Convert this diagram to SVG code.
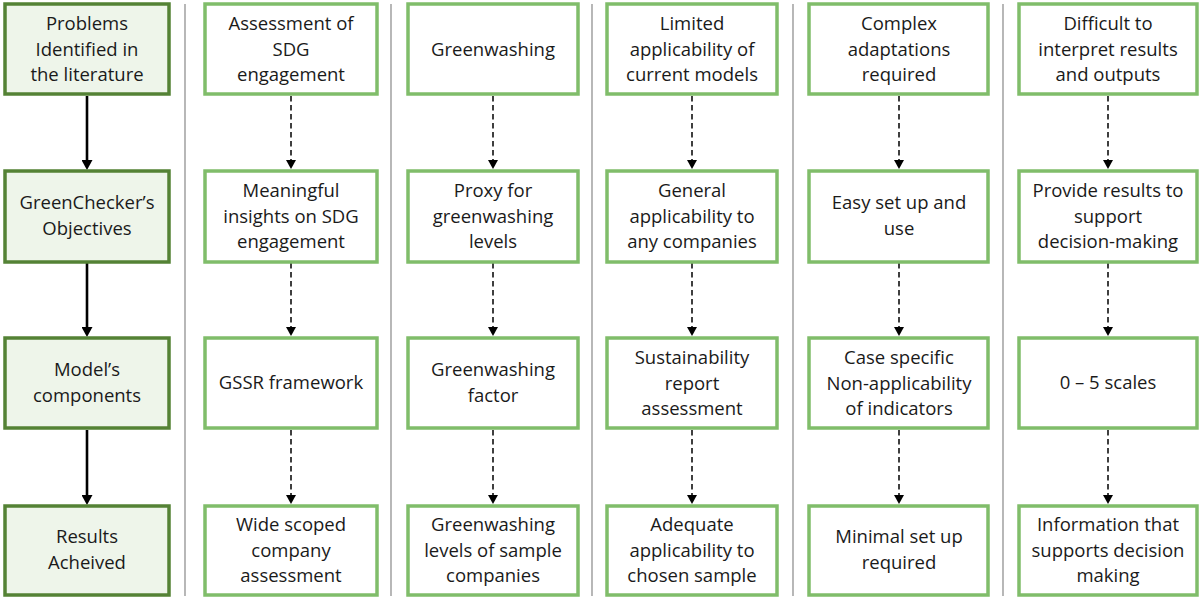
<svg xmlns="http://www.w3.org/2000/svg" width="1202" height="598" viewBox="0 0 1202 598">
<defs>
<style>
.lb{fill:#EEF5EA;stroke:#548235;stroke-width:3.5}
.nb{fill:#FFFFFF;stroke:#80BD6A;stroke-width:3.5}
text{font-family:"Open Sans","Liberation Sans",sans-serif;font-size:18.5px;fill:#1A1A1A;text-anchor:middle}
.sep{stroke:#A6A6A6;stroke-width:1.6}
.solid{stroke:#000;stroke-width:2.6;fill:none;marker-end:url(#ah)}
.dash{stroke:#000;stroke-width:1.5;stroke-dasharray:5.5,3.5;fill:none;marker-end:url(#ah2)}
</style>
<marker id="ah" markerUnits="userSpaceOnUse" markerWidth="11" markerHeight="11" refX="0" refY="5.5" orient="auto" viewBox="0 0 11 11">
<path d="M0,0 L10,5.5 L0,11 Z" fill="#000"/>
</marker>
<marker id="ah2" markerUnits="userSpaceOnUse" markerWidth="10" markerHeight="10" refX="0" refY="5" orient="auto" viewBox="0 0 10 10">
<path d="M0,0 L9,5 L0,10 Z" fill="#000"/>
</marker>
</defs>
<rect width="1202" height="598" fill="#FFFFFF"/>
<g id="separators">
<line class="sep" x1="185" y1="4" x2="185" y2="596"/>
<line class="sep" x1="391" y1="4" x2="391" y2="596"/>
<line class="sep" x1="592" y1="4" x2="592" y2="596"/>
<line class="sep" x1="793" y1="4" x2="793" y2="596"/>
<line class="sep" x1="1003" y1="4" x2="1003" y2="596"/>
</g>
<g id="connectors">
<line class="solid" x1="87" y1="96" x2="87" y2="160"/>
<line class="solid" x1="87" y1="263" x2="87" y2="327"/>
<line class="solid" x1="87" y1="430" x2="87" y2="495"/>
<line class="dash" x1="291" y1="96" x2="291" y2="160"/>
<line class="dash" x1="291" y1="263" x2="291" y2="327"/>
<line class="dash" x1="291" y1="430" x2="291" y2="495"/>
<line class="dash" x1="493" y1="96" x2="493" y2="160"/>
<line class="dash" x1="493" y1="263" x2="493" y2="327"/>
<line class="dash" x1="493" y1="430" x2="493" y2="495"/>
<line class="dash" x1="692" y1="96" x2="692" y2="160"/>
<line class="dash" x1="692" y1="263" x2="692" y2="327"/>
<line class="dash" x1="692" y1="430" x2="692" y2="495"/>
<line class="dash" x1="899" y1="96" x2="899" y2="160"/>
<line class="dash" x1="899" y1="263" x2="899" y2="327"/>
<line class="dash" x1="899" y1="430" x2="899" y2="495"/>
<line class="dash" x1="1108" y1="96" x2="1108" y2="160"/>
<line class="dash" x1="1108" y1="263" x2="1108" y2="327"/>
<line class="dash" x1="1108" y1="430" x2="1108" y2="495"/>
</g>
<g id="n-problems"><rect class="lb" x="5" y="4" width="164" height="90"/><text x="87" y="30">Problems</text><text x="87" y="55.5">Identified in</text><text x="87" y="81">the literature</text></g>
<g id="n-objectives"><rect class="lb" x="5" y="171" width="164" height="91"/><text x="87" y="209">GreenChecker’s</text><text x="87" y="235">Objectives</text></g>
<g id="n-components"><rect class="lb" x="5" y="338" width="164" height="90"/><text x="87" y="376">Model’s</text><text x="87" y="402">components</text></g>
<g id="n-results"><rect class="lb" x="5" y="506" width="164" height="89"/><text x="87" y="543">Results</text><text x="87" y="569">Acheived</text></g>

<g id="c1-r1"><rect class="nb" x="205" y="4" width="172" height="90"/><text x="291" y="30">Assessment of</text><text x="291" y="55.5">SDG</text><text x="291" y="81">engagement</text></g>
<g id="c1-r2"><rect class="nb" x="205" y="171" width="172" height="91"/><text x="291" y="197">Meaningful</text><text x="291" y="222.5">insights on SDG</text><text x="291" y="248">engagement</text></g>
<g id="c1-r3"><rect class="nb" x="205" y="338" width="172" height="90"/><text x="291" y="389">GSSR framework</text></g>
<g id="c1-r4"><rect class="nb" x="205" y="506" width="172" height="89"/><text x="291" y="531">Wide scoped</text><text x="291" y="556.5">company</text><text x="291" y="582">assessment</text></g>

<g id="c2-r1"><rect class="nb" x="408" y="4" width="170" height="90"/><text x="493" y="55.5">Greenwashing</text></g>
<g id="c2-r2"><rect class="nb" x="408" y="171" width="170" height="91"/><text x="493" y="197">Proxy for</text><text x="493" y="222.5">greenwashing</text><text x="493" y="248">levels</text></g>
<g id="c2-r3"><rect class="nb" x="408" y="338" width="170" height="90"/><text x="493" y="376">Greenwashing</text><text x="493" y="402">factor</text></g>
<g id="c2-r4"><rect class="nb" x="408" y="506" width="170" height="89"/><text x="493" y="531">Greenwashing</text><text x="493" y="556.5">levels of sample</text><text x="493" y="582">companies</text></g>

<g id="c3-r1"><rect class="nb" x="607" y="4" width="170" height="90"/><text x="692" y="30">Limited</text><text x="692" y="55.5">applicability of</text><text x="692" y="81">current models</text></g>
<g id="c3-r2"><rect class="nb" x="607" y="171" width="170" height="91"/><text x="692" y="197">General</text><text x="692" y="222.5">applicability to</text><text x="692" y="248">any companies</text></g>
<g id="c3-r3"><rect class="nb" x="607" y="338" width="170" height="90"/><text x="692" y="364">Sustainability</text><text x="692" y="389.5">report</text><text x="692" y="415">assessment</text></g>
<g id="c3-r4"><rect class="nb" x="607" y="506" width="170" height="89"/><text x="692" y="531">Adequate</text><text x="692" y="556.5">applicability to</text><text x="692" y="582">chosen sample</text></g>

<g id="c4-r1"><rect class="nb" x="809" y="4" width="179" height="90"/><text x="899" y="30">Complex</text><text x="899" y="55.5">adaptations</text><text x="899" y="81">required</text></g>
<g id="c4-r2"><rect class="nb" x="809" y="171" width="179" height="91"/><text x="899" y="209">Easy set up and</text><text x="899" y="235">use</text></g>
<g id="c4-r3"><rect class="nb" x="809" y="338" width="179" height="90"/><text x="899" y="364">Case specific</text><text x="899" y="389.5">Non-applicability</text><text x="899" y="415">of indicators</text></g>
<g id="c4-r4"><rect class="nb" x="809" y="506" width="179" height="89"/><text x="899" y="543">Minimal set up</text><text x="899" y="569">required</text></g>

<g id="c5-r1"><rect class="nb" x="1019" y="4" width="178" height="90"/><text x="1108" y="30">Difficult to</text><text x="1108" y="55.5">interpret results</text><text x="1108" y="81">and outputs</text></g>
<g id="c5-r2"><rect class="nb" x="1019" y="171" width="178" height="91"/><text x="1108" y="197">Provide results to</text><text x="1108" y="222.5">support</text><text x="1108" y="248">decision-making</text></g>
<g id="c5-r3"><rect class="nb" x="1019" y="338" width="178" height="90"/><text x="1108" y="389">0 – 5 scales</text></g>
<g id="c5-r4"><rect class="nb" x="1019" y="506" width="178" height="89"/><text x="1108" y="531">Information that</text><text x="1108" y="556.5">supports decision</text><text x="1108" y="582">making</text></g>
</svg>
